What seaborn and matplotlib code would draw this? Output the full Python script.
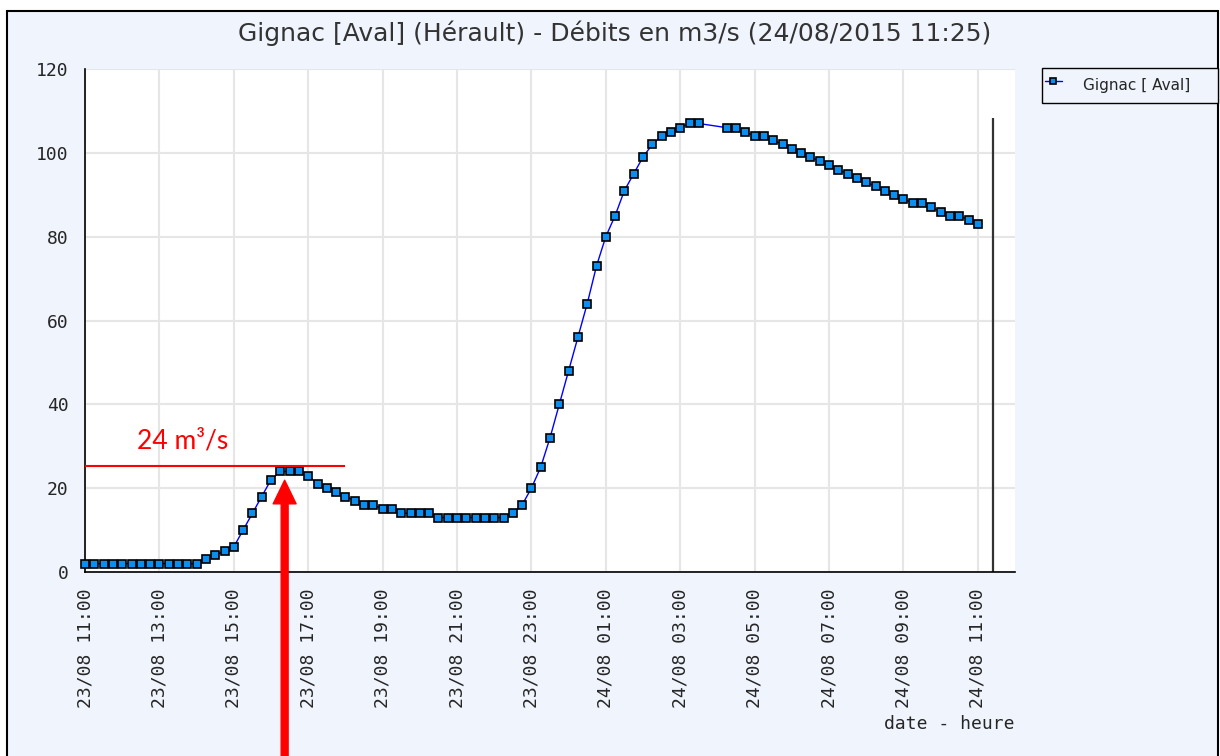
import pandas as pd
import numpy as np
import matplotlib.pyplot as plt
import matplotlib.dates as mdates
from matplotlib.ticker import MultipleLocator
from matplotlib.patches import Rectangle
import seaborn as sns

# Readings every 15 min, from 23/08/2015 11:00 to 24/08/2015 11:00
# (two readings are missing around 04:00)
start = "2015-08-23 11:00"
end = "2015-08-24 12:00"
now = "2015-08-24 11:25"
debits = [2, 2, 2, 2, 2, 2, 2, 2, 2, 2, 2, 2, 2,
          3, 4, 5, 6, 10, 14, 18, 22, 24, 24, 24, 23, 21, 20, 19, 18, 17, 16, 16,
          15, 15, 14, 14, 14, 14, 13, 13, 13, 13, 13, 13, 13, 13,
          14, 16, 20, 25, 32, 40, 48, 56, 64, 73, 80, 85, 91, 95, 99, 102, 104,
          105, 106, 107, 107, None, None,
          106, 106, 105, 104, 104, 103, 102, 101, 100, 99, 98, 97, 96, 95, 94,
          93, 92, 91, 90, 89, 88, 88, 87, 86, 85, 85, 84, 83]
station = "Gignac [ Aval]"
title = "Gignac [Aval] (Hérault) - Débits en m3/s (24/08/2015 11:25)"
now_level = 108.4

# red annotation
peak_label = "24 m³/s"
peak_level = 25.2
peak_line_end = "2015-08-23 18:00"
peak_text_at = ("2015-08-23 12:24", 28.3)
arrow_at = ("2015-08-23 16:22", 21.9)

times = pd.date_range(start, periods=len(debits), freq="15min")
df = pd.DataFrame({"date": times, "debit": debits}).dropna()

sns.set_style("white")
plt.rcParams["font.family"] = ["DejaVu Sans"]
mono = "DejaVu Sans Mono"
bg = "#f0f4fd"

fig = plt.figure(figsize=(12.2, 7.56), dpi=100)
fig.patch.set_facecolor("white")
fig.add_artist(Rectangle((7 / 1220, -0.02), 1211 / 1220, 745 / 756 + 0.02,
                         transform=fig.transFigure, facecolor=bg,
                         edgecolor="black", lw=1.5, zorder=-1))

ax = fig.add_axes([85 / 1220, 184 / 756, 930 / 1220, 503 / 756])
ax.set_facecolor("white")

sns.lineplot(data=df, x="date", y="debit", ax=ax, color="#0000ff", lw=1,
             marker="s", markersize=6, markerfacecolor="#0a8ff0",
             markeredgecolor="black", markeredgewidth=1.2,
             label=station, clip_on=False, zorder=3, legend=False)

ax.vlines(pd.Timestamp(now), 0, now_level, color="#333333", lw=1.6, zorder=2)

# axes
ax.set_xlim(pd.Timestamp(start), pd.Timestamp(end))
ax.set_ylim(0, 120)
ax.xaxis.set_major_locator(mdates.HourLocator(byhour=range(1, 24, 2)))
ax.xaxis.set_minor_locator(mdates.HourLocator())
ax.xaxis.set_major_formatter(mdates.DateFormatter("%d/%m %H:%M"))
ax.yaxis.set_major_locator(MultipleLocator(20))
ax.yaxis.set_minor_locator(MultipleLocator(10))
ax.tick_params(which="both", direction="in", length=7, width=1, color="black")
ax.tick_params(axis="y", which="major", pad=12, labelsize=13)
ax.tick_params(axis="x", which="major", pad=12, labelsize=13, labelrotation=90)
for lab in ax.get_xticklabels() + ax.get_yticklabels():
    lab.set_family(mono)
ax.grid(True, which="major", color="#e6e6e6", lw=1.5)
ax.set_axisbelow(True)
for s in ["top", "right"]:
    ax.spines[s].set_visible(False)
for s in ["left", "bottom"]:
    ax.spines[s].set_color("black")
    ax.spines[s].set_linewidth(1.2)
ax.set_ylabel("")
ax.set_xlabel("date - heure", loc="right", family=mono, fontsize=13, labelpad=5)

fig.text(0.504, 1 - 33 / 756, title, ha="center", va="center", fontsize=18,
         color="#333333")

# legend outside on the right
handles, labels = ax.get_legend_handles_labels()
fig.legend(handles, labels, loc="upper left",
           bbox_to_anchor=(1042 / 1220, 1 - 68 / 756, 176 / 1220, 0.0),
           bbox_transform=fig.transFigure, mode="expand", borderaxespad=0,
           fontsize=11, frameon=True, fancybox=False, edgecolor="black",
           facecolor=bg, framealpha=1, handlelength=1.1, handletextpad=1.4,
           handleheight=2.5, borderpad=0.2, markerscale=0.8)

# red annotation: peak level, label and arrow
ax.hlines(peak_level, pd.Timestamp(start), pd.Timestamp(peak_line_end),
          color="red", lw=1.5, clip_on=False, zorder=4)
ax.text(pd.Timestamp(peak_text_at[0]), peak_text_at[1], peak_label, color="red",
        fontsize=19, family="Lato", va="bottom")
ax.annotate("", xy=(pd.Timestamp(arrow_at[0]), arrow_at[1]),
            xytext=(pd.Timestamp(arrow_at[0]), -0.02),
            textcoords=("data", "figure fraction"), annotation_clip=False,
            arrowprops=dict(width=5, headwidth=16.5, headlength=17,
                            facecolor="red", edgecolor="red", shrink=0))

plt.savefig("out.png", dpi=100)
plt.close()
